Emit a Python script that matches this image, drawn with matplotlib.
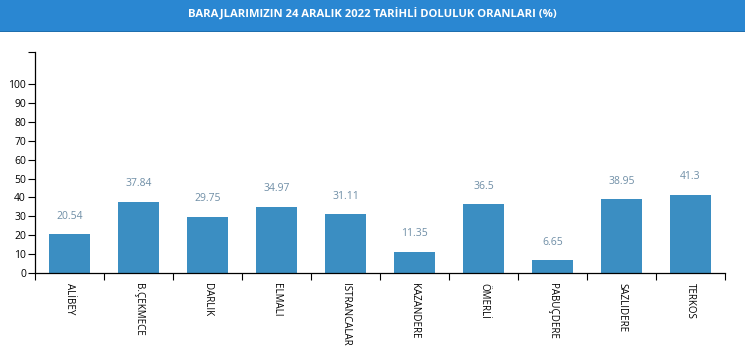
import matplotlib
matplotlib.use("Agg")
import matplotlib.pyplot as plt
import numpy as np
from matplotlib.patches import Rectangle

plt.rcParams['font.family'] = ['Open Sans', 'DejaVu Sans']

# baraj doluluk oranları
barajlar = ['ALİBEY', 'B.ÇEKMECE', 'DARLIK', 'ELMALI', 'ISTRANCALAR',
            'KAZANDERE', 'ÖMERLİ', 'PABUÇDERE', 'SAZLIDERE', 'TERKOS']
oranlar = [20.54, 37.84, 29.75, 34.97, 31.11, 11.35, 36.5, 6.65, 38.95, 41.3]
y_ticks = list(range(0, 101, 10))
baslik = 'BARAJLARIMIZIN 24 ARALIK 2022 TARİHLİ DOLULUK ORANLARI (%)'

W, H = 745, 354
fig = plt.figure(figsize=(W / 100, H / 100), dpi=100)

# üst mavi şerit
fig.patches.append(Rectangle((0, 1 - 31 / H), 1, 31 / H, transform=fig.transFigure,
                             facecolor='#2a87d2', edgecolor='none', zorder=0))
fig.patches.append(Rectangle((0, 1 - 32 / H), 1, 1.5 / H, transform=fig.transFigure,
                             facecolor='#1f6fae', edgecolor='none', zorder=0))
fig.text(0.5, 1 - 14 / H, baslik, color='white', fontsize=8.1, fontweight='bold',
         ha='center', va='center')

ax = fig.add_axes([35 / W, 1 - 273 / H, 690 / W, 221 / H])
x = np.arange(len(barajlar))
bars = ax.bar(x, oranlar, width=0.6, color='#3b8ec2')

for xi, v in zip(x, oranlar):
    ax.annotate(f'{v:g}', (xi, v), xytext=(0, 13), textcoords='offset points',
                ha='center', va='center', fontsize=7.5, color='#6f8ea6')

ax.set_xlim(-0.5, len(barajlar) - 0.5)
ax.set_ylim(0, 117)

# y ekseni
ax.set_yticks(y_ticks + [117])
ax.set_yticklabels([str(t) for t in y_ticks] + [''])
ax.tick_params(axis='y', length=5, width=0.8, labelsize=7.5, pad=1.5, colors='black')

# x ekseni: işaretler bant sınırlarında, etiketler ortada
ax.set_xticks(np.arange(len(barajlar) + 1) - 0.5)
ax.set_xticklabels([])
ax.set_xticks(x, minor=True)
ax.set_xticklabels(barajlar, minor=True, rotation=-90, fontsize=7, va='top', ha='center')
ax.tick_params(axis='x', which='major', length=5, width=0.8)
ax.tick_params(axis='x', which='minor', length=0, pad=7)

for s in ['top', 'right']:
    ax.spines[s].set_visible(False)
for s in ['left', 'bottom']:
    ax.spines[s].set_linewidth(0.9)

fig.savefig('out.png', dpi=100)
